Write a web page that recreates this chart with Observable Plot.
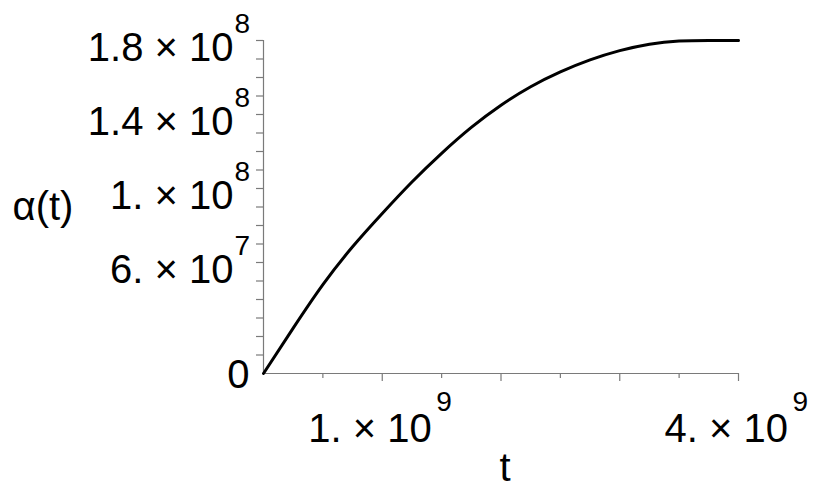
<!DOCTYPE html>
<html><head><meta charset="utf-8">
<script src="https://cdn.jsdelivr.net/npm/d3@7"></script>
<script src="https://cdn.jsdelivr.net/npm/@observablehq/plot@0.6"></script>
<style>
html,body{margin:0;padding:0;background:#fff}
#chart svg{display:block}
</style>
</head><body><div id="chart"></div>
<script>
// curve readings: t and alpha(t)
const tValues = [0, 0.25e9, 0.5e9, 0.75e9, 1e9, 1.25e9, 1.5e9, 1.75e9, 2e9, 2.25e9, 2.5e9, 2.75e9, 3e9, 3.25e9, 3.5e9, 3.75e9, 4e9];
const alphaValues = [0, 2.45e7, 4.8e7, 6.85e7, 8.65e7, 10.35e7, 11.9e7, 13.3e7, 14.5e7, 15.5e7, 16.3e7, 16.95e7, 17.45e7, 17.8e7, 17.97e7, 18.0e7, 18.0e7];

// axis ticks
const xMinorTicks = [0.5e9, 1.5e9, 2.5e9, 3.5e9];
const xMajorTicks = [1e9, 2e9, 3e9, 4e9];
const yTicks = [1e7, 2e7, 3e7, 4e7, 5e7, 6e7, 7e7, 8e7, 9e7, 10e7, 11e7, 12e7, 13e7, 14e7, 15e7, 16e7, 17e7, 18e7];

// tick labels
const xLabelValues = [1e9, 4e9];
const xLabelBase = ["1. × 10", "4. × 10"];
const xLabelExp = ["9", "9"];
const yLabelValues = [6e7, 1e8, 1.4e8, 1.8e8];
const yLabelBase = ["6. × 10", "1. × 10", "1.4 × 10", "1.8 × 10"];
const yLabelExp = ["7", "8", "8", "8"];
const yZeroLabel = ["0"];

const data = tValues.map((t, i) => ({t, a: alphaValues[i]}));
const axisColor = "#7a7a7a";
const font = "'Liberation Sans', Arial, Helvetica, sans-serif";

const plot = Plot.plot({
  width: 818,
  height: 498,
  marginTop: 40,
  marginBottom: 125,
  marginLeft: 263,
  marginRight: 80,
  style: {background: "#fff", fontFamily: font, color: "#000"},
  x: {domain: [0, 4e9], axis: null},
  y: {domain: [0, 1.8e8], axis: null},
  marks: [
    Plot.ruleY([0], {stroke: axisColor, strokeWidth: 1.2}),
    Plot.ruleX([0], {stroke: axisColor, strokeWidth: 1.2}),
    Plot.axisX(xMinorTicks, {tickSize: 5, tickFormat: () => "", label: null, stroke: axisColor, strokeWidth: 1.2}),
    Plot.axisX(xMajorTicks, {tickSize: 8, tickFormat: () => "", label: null, stroke: axisColor, strokeWidth: 1.2}),
    Plot.axisY(yTicks, {tickSize: 7, tickFormat: () => "", label: null, stroke: axisColor, strokeWidth: 1.2}),
    Plot.line(data, {x: "t", y: "a", curve: "natural", stroke: "#000", strokeWidth: 3}),
    // y tick labels
    Plot.text(yLabelValues, {y: d => d, text: (d, i) => yLabelBase[i], frameAnchor: "left", textAnchor: "end", lineAnchor: "bottom", dx: -30, dy: 20, fontSize: 40, fill: "#000"}),
    Plot.text(yLabelValues, {y: d => d, text: (d, i) => yLabelExp[i], frameAnchor: "left", textAnchor: "start", lineAnchor: "bottom", dx: -29, dy: -8, fontSize: 28, fill: "#000"}),
    Plot.text([0], {y: d => d, text: (d, i) => yZeroLabel[i], frameAnchor: "left", textAnchor: "end", lineAnchor: "bottom", dx: -14, dy: 14, fontSize: 40, fill: "#000"}),
    // x tick labels
    Plot.text(xLabelValues, {x: d => d, text: (d, i) => xLabelBase[i], frameAnchor: "bottom", textAnchor: "start", lineAnchor: "bottom", dx: -74, dy: 68, fontSize: 40, fill: "#000"}),
    Plot.text(xLabelValues, {x: d => d, text: (d, i) => xLabelExp[i], frameAnchor: "bottom", textAnchor: "start", lineAnchor: "bottom", dx: 54, dy: 37, fontSize: 28, fill: "#000"}),
    // axis titles
    Plot.text(["α(t)"], {text: d => d, frameAnchor: "left", textAnchor: "start", lineAnchor: "middle", dx: -251, dy: 0, fontSize: 40, fill: "#000"}),
    Plot.text(["t"], {text: d => d, frameAnchor: "bottom", textAnchor: "middle", lineAnchor: "bottom", dx: 4, dy: 107, fontSize: 40, fill: "#000"})
  ]
});
document.getElementById("chart").appendChild(plot);
</script>
</body></html>
